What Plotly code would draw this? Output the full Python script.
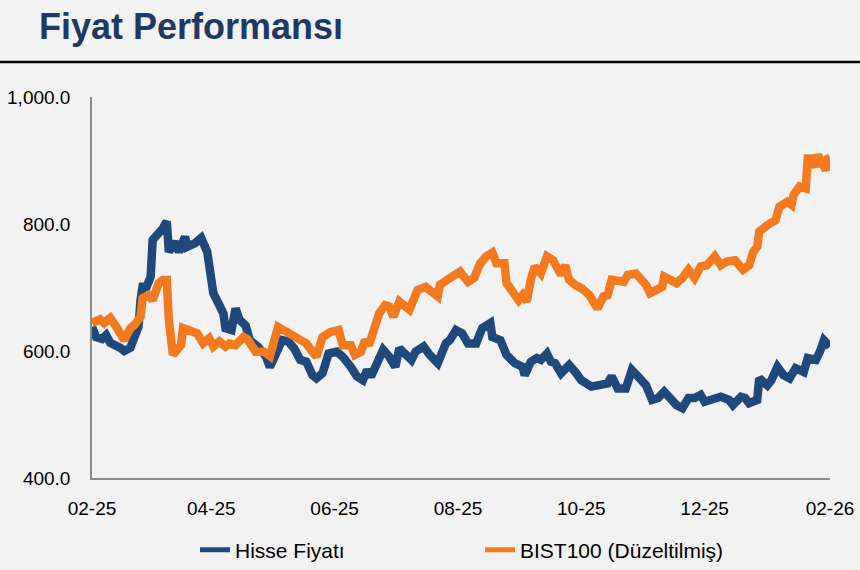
import plotly.graph_objects as go

# ---- data ----
hisse_dates = [
    "2025-02-12","2025-02-14","2025-02-17","2025-02-19","2025-02-21","2025-02-24","2025-02-26","2025-02-28",
    "2025-03-03","2025-03-05","2025-03-07","2025-03-08","2025-03-09","2025-03-11","2025-03-13","2025-03-14",
    "2025-03-17","2025-03-19","2025-03-21","2025-03-22","2025-03-25","2025-03-27","2025-03-30","2025-03-31",
    "2025-04-04","2025-04-07","2025-04-10","2025-04-11","2025-04-13","2025-04-16","2025-04-18","2025-04-19",
    "2025-04-22","2025-04-24","2025-04-26","2025-04-29","2025-05-01","2025-05-05","2025-05-09","2025-05-11",
    "2025-05-14","2025-05-17","2025-05-20","2025-05-23","2025-05-26","2025-05-29","2025-06-01","2025-06-03",
    "2025-06-06","2025-06-09","2025-06-13","2025-06-16","2025-06-20","2025-06-23","2025-06-26","2025-06-28",
    "2025-06-30","2025-07-03","2025-07-06","2025-07-09","2025-07-12","2025-07-14","2025-07-17","2025-07-20",
    "2025-07-22","2025-07-26","2025-07-29","2025-08-02","2025-08-06","2025-08-08","2025-08-11","2025-08-14",
    "2025-08-17","2025-08-21","2025-08-24","2025-08-28","2025-08-29","2025-09-02","2025-09-05","2025-09-09",
    "2025-09-13","2025-09-14","2025-09-17","2025-09-20","2025-09-22","2025-09-25","2025-09-27","2025-09-29",
    "2025-10-02","2025-10-06","2025-10-09","2025-10-12","2025-10-17","2025-10-22","2025-10-25","2025-10-27",
    "2025-10-30","2025-11-03","2025-11-06","2025-11-09","2025-11-13","2025-11-16","2025-11-19","2025-11-22",
    "2025-11-25","2025-11-28","2025-12-01","2025-12-04","2025-12-07","2025-12-10","2025-12-12","2025-12-16",
    "2025-12-20","2025-12-24","2025-12-26","2025-12-30","2026-01-01","2026-01-03","2026-01-07","2026-01-08",
    "2026-01-12","2026-01-14","2026-01-17","2026-01-20","2026-01-23","2026-01-26","2026-01-30","2026-02-01",
    "2026-02-05","2026-02-07","2026-02-09","2026-02-12",
]
hisse_values = [
    638, 622, 619, 625, 613, 609, 605, 600,
    605, 622, 638, 680, 701, 701, 717, 775,
    785, 793, 804, 756, 772, 756, 780, 764,
    770, 778, 756, 728, 691, 672, 659, 636,
    633, 667, 649, 640, 617, 607, 591, 575,
    599, 617, 615, 604, 586, 583, 562, 557,
    565, 596, 599, 591, 575, 560, 554, 570,
    560, 581, 602, 591, 575, 604, 596, 586,
    599, 607, 594, 581, 612, 617, 633, 628,
    612, 612, 636, 644, 622, 617, 594, 581,
    575, 562, 583, 589, 586, 596, 583, 581,
    565, 578, 567, 554, 544, 549, 549, 560,
    541, 541, 570, 560, 546, 523, 526, 536,
    523, 515, 510, 526, 526, 531, 520, 523,
    528, 523, 515, 528, 526, 518, 523, 557,
    546, 554, 575, 562, 557, 573, 567, 589,
    586, 599, 617, 607,
]

bist_dates = [
    "2025-02-12","2025-02-16","2025-02-18","2025-02-21","2025-02-24","2025-02-27","2025-02-28","2025-03-03",
    "2025-03-05","2025-03-08","2025-03-09","2025-03-12","2025-03-14","2025-03-17","2025-03-19","2025-03-21",
    "2025-03-22","2025-03-24","2025-03-26","2025-03-28","2025-03-29","2025-04-01","2025-04-05","2025-04-08",
    "2025-04-11","2025-04-13","2025-04-16","2025-04-19","2025-04-21","2025-04-24","2025-04-28","2025-04-30",
    "2025-05-04","2025-05-08","2025-05-11","2025-05-15","2025-05-18","2025-05-23","2025-05-26","2025-05-29",
    "2025-06-01","2025-06-03","2025-06-06","2025-06-10","2025-06-14","2025-06-16","2025-06-20","2025-06-22",
    "2025-06-25","2025-06-27","2025-06-29","2025-07-01","2025-07-04","2025-07-07","2025-07-09","2025-07-11",
    "2025-07-14","2025-07-17","2025-07-19","2025-07-23","2025-07-27","2025-07-29","2025-08-02","2025-08-03",
    "2025-08-06","2025-08-09","2025-08-13","2025-08-17","2025-08-20","2025-08-23","2025-08-26","2025-08-29",
    "2025-08-31","2025-09-04","2025-09-05","2025-09-08","2025-09-11","2025-09-13","2025-09-15","2025-09-17",
    "2025-09-19","2025-09-22","2025-09-25","2025-09-28","2025-09-30","2025-10-02","2025-10-04","2025-10-06",
    "2025-10-09","2025-10-12","2025-10-16","2025-10-18","2025-10-20","2025-10-23","2025-10-25","2025-10-27",
    "2025-10-30","2025-11-02","2025-11-04","2025-11-08","2025-11-10","2025-11-13","2025-11-15","2025-11-17",
    "2025-11-21","2025-11-22","2025-11-26","2025-11-28","2025-12-01","2025-12-03","2025-12-04","2025-12-07",
    "2025-12-10","2025-12-13","2025-12-17","2025-12-20","2025-12-23","2025-12-27","2025-12-31","2026-01-03",
    "2026-01-05","2026-01-07","2026-01-08","2026-01-12","2026-01-16","2026-01-18","2026-01-22","2026-01-24",
    "2026-01-25","2026-01-28","2026-01-31","2026-02-01","2026-02-03","2026-02-05","2026-02-06","2026-02-08",
    "2026-02-10","2026-02-11","2026-02-12",
]
bist_values = [
    644, 650, 644, 652, 638, 625, 617, 636,
    641, 654, 683, 688, 680, 707, 712, 712,
    649, 594, 602, 609, 636, 633, 628, 612,
    620, 607, 615, 607, 612, 609, 622, 618,
    599, 599, 592, 638, 633, 625, 617, 612,
    599, 591, 622, 630, 633, 609, 609, 594,
    599, 617, 609, 633, 659, 672, 670, 654,
    678, 670, 665, 696, 701, 696, 686, 704,
    709, 717, 725, 709, 715, 738, 749, 755,
    738, 738, 707, 694, 680, 688, 678, 712,
    733, 722, 749, 743, 728, 720, 735, 712,
    704, 699, 688, 675, 667, 686, 688, 712,
    709, 709, 720, 722, 715, 704, 691, 694,
    701, 717, 709, 707, 715, 725, 728, 715,
    733, 735, 749, 735, 741, 743, 728, 735,
    756, 764, 788, 798, 806, 827, 835, 830,
    846, 859, 856, 903, 903, 890, 909, 896,
    885, 903, 905,
]

x_tick_dates = ["2025-02-12", "2025-04-12", "2025-06-12", "2025-08-12",
                "2025-10-12", "2025-12-12", "2026-02-12"]
x_tick_labels = ["02-25", "04-25", "06-25", "08-25", "10-25", "12-25", "02-26"]
y_ticks = [400, 600, 800, 1000]

series_names = ["Hisse Fiyatı", "BIST100 (Düzeltilmiş)"]
title_text = "Fiyat Performansı"

# ---- styling ----
BLUE = "#1F497D"
ORANGE = "#F47A20"
BG = "#F2F2F2"
AXIS = "#8C8C8C"
FONT = "Liberation Sans, Arial, sans-serif"

W, H = 860, 570
ML, MR, MT, MB = 92, 30, 97, 92

fig = go.Figure()
fig.add_trace(go.Scatter(x=hisse_dates, y=hisse_values, mode="lines", name=series_names[0],
                         line=dict(color=BLUE, width=8.5)))
fig.add_trace(go.Scatter(x=bist_dates, y=bist_values, mode="lines", name=series_names[1],
                         line=dict(color=ORANGE, width=8.5)))

pw = W - ML - MR
ph = H - MT - MB
# thick rule under the title, spanning the full width
rule_y = 1 + (MT - 62) / ph
fig.add_shape(type="line", xref="paper", yref="paper",
              x0=-ML / pw, x1=(W - ML) / pw, y0=rule_y, y1=rule_y,
              line=dict(color="#000000", width=2.5))

fig.update_layout(
    width=W, height=H,
    margin=dict(l=ML, r=MR, t=MT, b=MB, pad=0, autoexpand=False),
    paper_bgcolor=BG, plot_bgcolor=BG,
    font=dict(family=FONT, color="#000000", size=19),
    title=dict(text=title_text, xref="container", yref="container",
               x=39 / W, xanchor="left", y=1 - 26 / H, yanchor="middle",
               font=dict(family=FONT, size=36, color="#1F3864", weight="bold")),
    showlegend=True,
    legend=dict(orientation="h", x=(195 - ML) / pw, xanchor="left",
                y=-(550 - (H - MB)) / ph, yanchor="middle",
                font=dict(family=FONT, size=21, color="#000000"),
                bgcolor="rgba(0,0,0,0)", entrywidth=240, entrywidthmode="pixels",
                itemsizing="constant"),
    hovermode=False,
)
fig.update_xaxes(type="date", range=[x_tick_dates[0], x_tick_dates[-1]], automargin=False,
                 tickmode="array", tickvals=x_tick_dates, ticktext=x_tick_labels,
                 showgrid=False, zeroline=False, showline=True, linecolor=AXIS, linewidth=1.5,
                 ticks="outside", ticklen=12, tickcolor="rgba(0,0,0,0)",
                 tickfont=dict(size=19, color="#000000"))
fig.update_yaxes(range=[400, 1000], tickmode="array", tickvals=y_ticks, automargin=False,
                 tickformat=",.1f",
                 showgrid=False, zeroline=False, showline=True, linecolor=AXIS, linewidth=1.5,
                 ticks="outside", ticklen=16, tickcolor="rgba(0,0,0,0)",
                 tickfont=dict(size=19, color="#000000"))

fig.write_html("out.html", config={"displayModeBar": False},
               post_script="document.body.style.margin='0';document.body.style.overflow='hidden';")
